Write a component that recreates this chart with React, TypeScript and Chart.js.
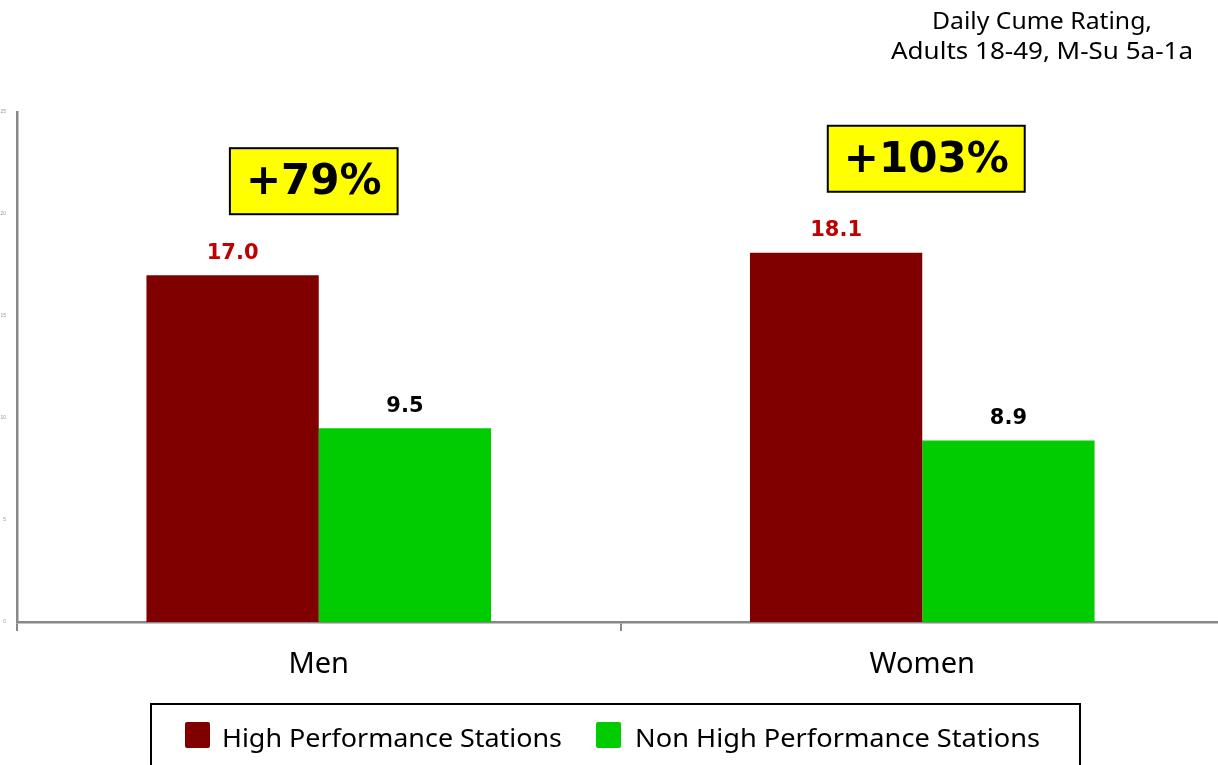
import React, { useEffect, useRef } from "react";
import { Chart, registerables } from "chart.js";

Chart.register(...registerables);

const categories = ["Men", "Women"];
const highPerformance = [17.0, 18.1];
const nonHighPerformance = [9.5, 8.9];
const seriesLabels = ["High Performance Stations", "Non High Performance Stations"];
const changeLabels = ["+79%", "+103%"];
const titleLines = ["Daily Cume Rating,", "Adults 18-49, M-Su 5a-1a"];
const yTicks = [0, 5, 10, 15, 20, 25];

const RED = "#800000";
const GREEN = "#00cc00";

const overlayPlugin = {
  id: "overlay",
  afterDatasetsDraw(chart: any) {
    const ctx = chart.ctx as CanvasRenderingContext2D;
    const yScale = chart.scales.y;
    const xScale = chart.scales.x;
    ctx.save();
    chart.data.datasets.forEach((ds: any, di: number) => {
      const meta = chart.getDatasetMeta(di);
      meta.data.forEach((bar: any, i: number) => {
        const v = ds.data[i];
        ctx.font = "bold 21px 'DejaVu Sans'";
        ctx.fillStyle = di === 0 ? "#c00000" : "#000000";
        ctx.textAlign = "center";
        ctx.textBaseline = "middle";
        ctx.fillText(v.toFixed(1), bar.x, bar.y - 22);
      });
    });
    changeLabels.forEach((lab, i) => {
      const cx = xScale.getPixelForValue(i) + (i === 0 ? -5 : 4);
      const topVal = Math.max(highPerformance[i], nonHighPerformance[i]);
      const bottom = yScale.getPixelForValue(topVal) - 61;
      ctx.font = "bold 42px 'DejaVu Sans'";
      const tw = ctx.measureText(lab).width;
      const w = tw + 32;
      const h = 66;
      ctx.fillStyle = "#ffff00";
      ctx.fillRect(cx - w / 2, bottom - h, w, h);
      ctx.lineWidth = 2;
      ctx.strokeStyle = "#000";
      ctx.strokeRect(cx - w / 2, bottom - h, w, h);
      ctx.fillStyle = "#000";
      ctx.textAlign = "center";
      ctx.textBaseline = "middle";
      ctx.fillText(lab, cx, bottom - h / 2 + 2);
    });
    ctx.font = "23px 'Noto Sans'";
    ctx.fillStyle = "#000";
    ctx.textBaseline = "middle";
    titleLines.forEach((t, i) => {
      const target = i === 0 ? 220 : 302;
      const m = ctx.measureText(t).width;
      ctx.save();
      ctx.translate(1042, 22 + i * 30);
      ctx.scale(target / m, 1);
      ctx.textAlign = "center";
      ctx.fillText(t, 0, 0);
      ctx.restore();
    });
    ctx.lineWidth = 2;
    ctx.strokeStyle = "#000";
    ctx.strokeRect(151, 704, 929, 90);
    const colors = [RED, GREEN];
    const boxX = [185, 596];
    const textX = [222, 635];
    const textW = [340, 405];
    seriesLabels.forEach((lab, i) => {
      ctx.fillStyle = colors[i];
      ctx.beginPath();
      (ctx as any).roundRect(boxX[i], 722, 25, 26, 2);
      ctx.fill();
      ctx.font = "26px 'Noto Sans'";
      const m = ctx.measureText(lab).width;
      ctx.save();
      ctx.translate(textX[i], 740);
      ctx.scale(textW[i] / m, 1);
      ctx.fillStyle = "#000";
      ctx.textAlign = "left";
      ctx.textBaseline = "middle";
      ctx.fillText(lab, 0, 0);
      ctx.restore();
    });
    ctx.restore();
  },
};

export default function App() {
  const ref = useRef<HTMLCanvasElement>(null);
  useEffect(() => {
    document.body.style.margin = "0";
    const chart = new Chart(ref.current!, {
      type: "bar",
      data: {
        labels: categories,
        datasets: [
          { label: seriesLabels[0], data: highPerformance, backgroundColor: RED, barPercentage: 1, categoryPercentage: 0.571 },
          { label: seriesLabels[1], data: nonHighPerformance, backgroundColor: GREEN, barPercentage: 1, categoryPercentage: 0.571 },
        ],
      },
      options: {
        animation: false,
        responsive: false,
        layout: { padding: { top: 112, right: 0, left: 0, bottom: 0 } },
        plugins: { legend: { display: false }, tooltip: { enabled: false }, title: { display: false } },
        scales: {
          x: {
            offset: true,
            grid: { display: true, drawOnChartArea: false, offset: true, tickLength: 9, color: "#888", lineWidth: 2 },
            border: { display: true, color: "#888", width: 2.5 },
            ticks: { font: { size: 29, family: "'Noto Sans'" }, color: "#000", padding: 16 },
            afterFit: (s: any) => { s.height = 143; },
          },
          y: {
            min: 0,
            max: 25,
            afterBuildTicks: (s: any) => { s.ticks = yTicks.map((v) => ({ value: v })); },
            grid: { display: false },
            border: { display: true, color: "#888", width: 2.5 },
            ticks: { font: { size: 5 }, color: "#999", padding: 3 },
            afterFit: (s: any) => { s.width = 17; },
          },
        },
      },
      plugins: [overlayPlugin],
    });
    return () => chart.destroy();
  }, []);
  return (
    <div style={{ position: "absolute", left: 0, top: 0, width: 1218, height: 765, overflow: "hidden", background: "#fff" }}>
      <canvas ref={ref} width={1224} height={765} style={{ width: 1224, height: 765, display: "block" }} />
    </div>
  );
}
